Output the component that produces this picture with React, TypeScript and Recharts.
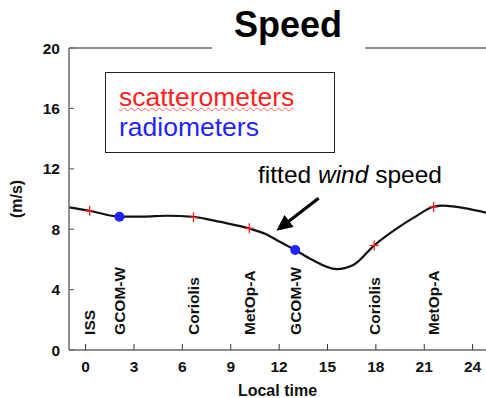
import {
  ComposedChart,
  Label,
  Legend,
  Line,
  ReferenceLine,
  Scatter,
  XAxis,
  YAxis,
} from "recharts";

const FONT = '"Liberation Sans", Arial, Helvetica, sans-serif';

// fitted wind speed curve (hour, m/s)
const curveHours = [
  -1.03, 0.25, 2.1, 3.55, 5.05, 6.69, 8.36, 10.15, 11.2, 11.95, 13.0, 13.95,
  15.55, 16.6, 17.9, 19.47, 20.4, 21.58, 22.15, 23.6, 24.83,
];
const curveSpeeds = [
  9.45, 9.22, 8.83, 8.83, 8.89, 8.82, 8.48, 8.05, 7.66, 7.22, 6.62, 6.03, 5.36,
  5.63, 6.93, 8.17, 8.8, 9.49, 9.56, 9.38, 9.09,
];

// satellite overpasses
const satNames = ["ISS", "GCOM-W", "Coriolis", "MetOp-A", "GCOM-W", "Coriolis", "MetOp-A"];
const satHours = [0.25, 2.1, 6.69, 10.15, 13.0, 17.9, 21.58];
const satSpeeds = [9.22, 8.83, 8.79, 8.06, 6.62, 6.92, 9.47];
const satKinds = [
  "scatterometer",
  "radiometer",
  "scatterometer",
  "scatterometer",
  "radiometer",
  "scatterometer",
  "scatterometer",
];

const xTicks = [0, 3, 6, 9, 12, 15, 18, 21, 24];
const yTicks = [0, 4, 8, 12, 16, 20];
const LABEL_V = 1; // where the rotated satellite names start

// arrow for the annotation: tail -> tip
const arrowFrom = { x: 14.45, y: 10.05 };
const arrowTo = { x: 11.83, y: 7.9 };

const RED = "#ff1f1f";
const BLUE = "#1f24ff";
const AXIS = "#6a6a6a";

const curve = curveHours.map((h, i) => ({ h, v: curveSpeeds[i] }));
const sats = satHours.map((h, i) => ({
  h,
  v: satSpeeds[i],
  name: satNames[i],
  kind: satKinds[i],
}));
const satLabels = sats.map((s) => ({ ...s, v: LABEL_V }));

function XTick({ x, y, payload }: any) {
  return (
    <g>
      <line x1={x} x2={x} y1={y} y2={y - 6} stroke="#333" strokeWidth={1} />
      <text
        x={x}
        y={y + 21.5}
        textAnchor="middle"
        fontFamily={FONT}
        fontWeight="bold"
        fontSize={15.5}
        fill="#111"
      >
        {payload.value}
      </text>
    </g>
  );
}

function YTick({ x, y, payload }: any) {
  return (
    <g>
      <line x1={x} x2={x + 5} y1={y} y2={y} stroke={AXIS} strokeWidth={1.2} />
      <text
        x={x - 9}
        y={y + 5.5}
        textAnchor="end"
        fontFamily={FONT}
        fontWeight="bold"
        fontSize={15.5}
        fill="#111"
      >
        {payload.value}
      </text>
    </g>
  );
}

function SatMarker(p: any) {
  const { cx, cy, payload } = p;
  if (payload.kind === "radiometer") {
    return <circle cx={cx} cy={cy} r={5} fill={BLUE} />;
  }
  return (
    <g stroke={RED} strokeWidth={1.3}>
      <line x1={cx - 4.5} x2={cx + 4.5} y1={cy} y2={cy} />
      <line x1={cx} x2={cx} y1={cy - 5} y2={cy + 5} />
    </g>
  );
}

function SatName(p: any) {
  const { cx, cy, payload } = p;
  return (
    <text
      x={cx}
      y={cy}
      dy="0.36em"
      transform={`rotate(-90 ${cx} ${cy})`}
      textAnchor="start"
      fontFamily={FONT}
      fontWeight="bold"
      fontSize={15.5}
      fill="#111"
    >
      {payload.name}
    </text>
  );
}

function Annotation(p: any) {
  const { x1, y1, x2, y2 } = p;
  const dx = x2 - x1;
  const dy = y2 - y1;
  const len = Math.hypot(dx, dy);
  const ux = dx / len;
  const uy = dy / len;
  const head = 16;
  const half = 7.5;
  const bx = x2 - ux * head;
  const by = y2 - uy * head;
  return (
    <g>
      <line x1={x1} y1={y1} x2={bx + ux * 2} y2={by + uy * 2} stroke="#000" strokeWidth={3.2} />
      <polygon
        points={`${x2},${y2} ${bx - uy * half},${by + ux * half} ${bx + uy * half},${by - ux * half}`}
        fill="#000"
      />
      <text x={x1 - 60.6} y={y1 - 15.6} fontFamily={FONT} fontSize={24.5} fill="#000">
        fitted <tspan fontStyle="italic">wind</tspan> speed
      </text>
    </g>
  );
}

function TitleLabel({ viewBox }: any) {
  const { x, y } = viewBox;
  return (
    <g>
      <rect x={x + 143} y={y - 5} width={153} height={10} fill="#fff" />
      <text
        x={x + 219}
        y={y - 11}
        textAnchor="middle"
        fontFamily={FONT}
        fontWeight="bold"
        fontSize={36}
        fill="#000"
      >
        Speed
      </text>
    </g>
  );
}

function LegendBox() {
  return (
    <div
      style={{
        boxSizing: "border-box",
        width: 230,
        height: 81,
        border: "1.2px solid #222",
        paddingTop: 8.5,
        paddingLeft: 13,
        fontFamily: FONT,
        fontSize: 26.5,
        lineHeight: "30.7px",
        background: "#fff",
      }}
    >
      <div
        style={{
          color: RED,
          textDecorationLine: "underline",
          textDecorationStyle: "wavy",
          textDecorationColor: "#ff6060",
          textDecorationThickness: 1,
        }}
      >
        scatterometers
      </div>
      <div style={{ color: BLUE }}>radiometers</div>
    </div>
  );
}

export default function App() {
  return (
    <div style={{ position: "absolute", left: 0, top: 0 }}>
      <ComposedChart
        width={486}
        height={398}
        margin={{ top: 48, right: 0, bottom: 0, left: 0 }}
      >
        <XAxis
          type="number"
          dataKey="h"
          domain={[-1.03, 24.83]}
          allowDataOverflow
          ticks={xTicks}
          interval={0}
          tickSize={0}
          tickMargin={0}
          tickLine={false}
          tick={<XTick />}
          axisLine={{ stroke: AXIS, strokeWidth: 1.5 }}
          height={48}
        >
          <Label
            content={({ viewBox }: any) => (
              <text
                x={viewBox.x + viewBox.width / 2}
                y={viewBox.y + 46}
                textAnchor="middle"
                fontFamily={FONT}
                fontWeight="bold"
                fontSize={16}
                fill="#111"
              >
                Local time
              </text>
            )}
          />
        </XAxis>
        <YAxis
          type="number"
          domain={[0, 20]}
          ticks={yTicks}
          interval={0}
          tickSize={0}
          tickMargin={0}
          tickLine={false}
          tick={<YTick />}
          axisLine={{ stroke: AXIS, strokeWidth: 1.5 }}
          width={69}
        >
          <Label
            content={({ viewBox }: any) => {
              const cx = viewBox.x + 16;
              const cy = viewBox.y + viewBox.height / 2;
              return (
                <text
                  x={cx}
                  y={cy}
                  dy="0.36em"
                  transform={`rotate(-90 ${cx} ${cy})`}
                  textAnchor="middle"
                  fontFamily={FONT}
                  fontWeight="bold"
                  fontSize={16}
                  fill="#111"
                >
                  (m/s)
                </text>
              );
            }}
          />
        </YAxis>
        <ReferenceLine y={20} stroke={AXIS} strokeWidth={1.5} label={<TitleLabel />} />
        <ReferenceLine
          segment={[arrowFrom, arrowTo]}
          shape={(p: any) => <Annotation {...p} />}
        />
        <Legend
          layout="vertical"
          align="center"
          verticalAlign="middle"
          wrapperStyle={{ left: 105, top: 72, width: 230, height: 81 }}
          content={() => <LegendBox />}
        />
        <Line
          data={curve}
          dataKey="v"
          type="monotone"
          stroke="#111"
          strokeWidth={2.2}
          dot={false}
          activeDot={false}
          isAnimationActive={false}
        />
        <Scatter
          data={satLabels}
          dataKey="v"
          shape={(p: any) => <SatName {...p} />}
          isAnimationActive={false}
        />
        <Scatter
          data={sats}
          dataKey="v"
          shape={(p: any) => <SatMarker {...p} />}
          isAnimationActive={false}
        />
      </ComposedChart>
    </div>
  );
}
